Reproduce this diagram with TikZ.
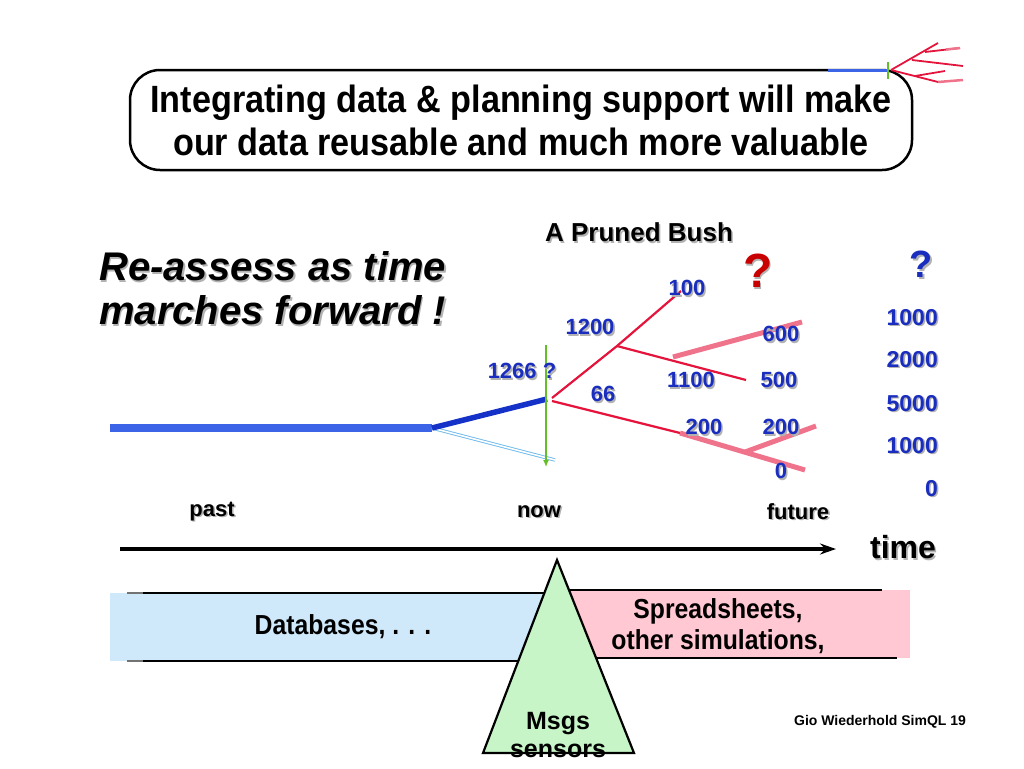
\documentclass[tikz,border=0pt]{standalone}
\usepackage{fontspec}
\setmainfont{Liberation Sans}
\newfontfamily\narrowfont{Liberation Sans}[FakeStretch=0.9]
\usetikzlibrary{arrows.meta}
\definecolor{pastblue}{RGB}{60,100,230}
\definecolor{nowblue}{RGB}{20,50,200}
\definecolor{altcyan}{RGB}{110,185,235}
\definecolor{nowgreen}{RGB}{100,190,40}
\definecolor{bushred}{RGB}{228,20,60}
\definecolor{bushpink}{RGB}{240,115,140}
\definecolor{lblue}{RGB}{25,45,190}
\definecolor{qred}{RGB}{200,0,0}
\definecolor{dbfill}{RGB}{207,233,250}
\definecolor{ssfill}{RGB}{255,200,210}
\definecolor{msfill}{RGB}{200,245,200}
\newcommand\shd[1]{\leavevmode\rlap{\kern1.6pt\raisebox{-1.6pt}{\color{black!30}#1}}#1}
\tikzset{
  lbl/.style={font=\bfseries\fontsize{22}{26}\selectfont, text=lblue, inner sep=0pt},
  rcol/.style={font=\bfseries\fontsize{23}{26}\selectfont, text=lblue, inner sep=0pt, anchor=east},
  axislbl/.style={font=\bfseries\fontsize{22}{26}\selectfont, inner sep=0pt},
  band/.style={font=\narrowfont\bfseries\fontsize{27.5}{31}\selectfont, inner sep=0pt, align=center},
  redbranch/.style={draw=bushred, line width=2.2pt},
  pinkbranch/.style={draw=bushpink, line width=5pt},
  bandline/.style={draw=black, line width=2.2pt}
}
\begin{document}
\begin{tikzpicture}[x=1pt,y=-1pt]
\useasboundingbox (0,0) rectangle (1024,768);

% title box
\node[draw, line width=2.5pt, rounded corners=30pt, minimum width=782pt, minimum height=100pt,
      align=center, inner sep=0pt, font=\narrowfont\bfseries\fontsize{38}{43}\selectfont] (title) at (521,120)
  {Integrating data \& planning support will make\\our data reusable and much more valuable};

% small bush icon
\coordinate (ib0) at (828,70);
\coordinate (ib1) at (887,70);
\coordinate (ibt) at (888,62);
\coordinate (ibb) at (888,79);
\coordinate (ir) at (891,70);
\coordinate (iu) at (938,43);
\coordinate (iua) at (925,52);
\coordinate (iub) at (960,48);
\coordinate (iuc) at (946,49.5);
\coordinate (imid) at (912,60);
\coordinate (im) at (963,66);
\coordinate (il) at (938,82);
\coordinate (ila) at (915,76);
\coordinate (ilb) at (945,71);
\coordinate (ilc) at (963,80);
\draw[pastblue, line width=3pt] (ib0) -- (ib1);
\draw[nowgreen, line width=2.5pt] (ibt) -- (ibb);
\draw[bushred, line width=1.8pt] (ir) -- (iu);
\draw[bushred, line width=1.8pt] (iua) -- (iub);
\draw[bushred, line width=1.8pt] (imid) -- (im);
\draw[bushred, line width=1.8pt] (ir) -- (il);
\draw[bushred, line width=1.8pt] (ila) -- (ilb);
\draw[bushpink, line width=2.5pt] (il) -- (ilc);
\draw[bushpink, line width=2.5pt] (iuc) -- (iub);

% left slogan
\node[anchor=west, align=left, inner sep=0pt, font=\bfseries\itshape\fontsize{40}{44}\selectfont] (slogan) at (99,289)
  {\shd{Re-assess as time}\\\shd{marches forward !}};

\node[font=\bfseries\fontsize{26}{28}\selectfont, inner sep=0pt] (bushtitle) at (639,233) {\shd{A Pruned Bush}};
\node[font=\bfseries\fontsize{48}{50}\selectfont, text=qred, inner sep=0pt] (qr) at (758,272) {\shd{?}};
\node[font=\bfseries\fontsize{38}{40}\selectfont, text=lblue, inner sep=0pt] (qb) at (921,265) {\shd{?}};

% right column
\node[rcol] (r1) at (938,318) {\shd{1000}};
\node[rcol] (r2) at (938,360) {\shd{2000}};
\node[rcol] (r3) at (938,404) {\shd{5000}};
\node[rcol] (r4) at (938,446) {\shd{1000}};
\node[rcol] (r5) at (938,489) {\shd{0}};

% tree
\coordinate (p0) at (110,428);
\coordinate (p1) at (432,428);
\coordinate (n1) at (547,399);
\coordinate (alt) at (555,460);
\coordinate (gtop) at (546,345);
\coordinate (gbot) at (546,467);
\coordinate (ra) at (552,398);
\coordinate (rb) at (552,401);
\coordinate (fork) at (617,346);
\coordinate (t100) at (681,291);
\coordinate (t500) at (746,380);
\coordinate (lowmid) at (680,433);
\coordinate (t0) at (805,470);
\coordinate (pk1a) at (673,357);
\coordinate (pk1b) at (802,322);
\coordinate (pk2a) at (745,452);
\coordinate (pk2b) at (816,426);

\draw[pastblue, line width=8pt] (p0) -- (p1);
\draw[double=white, draw=altcyan, line width=0.9pt, double distance=1.6pt] (p1) -- (alt);
\draw[nowblue, line width=5.5pt] (p1) -- (n1);
\draw[nowgreen, line width=1.3pt, -{Latex[length=7pt,width=6pt]}] (gtop) -- (gbot);
\draw[redbranch] (ra) -- (fork) -- (t100);
\draw[redbranch] (fork) -- (t500);
\draw[redbranch] (rb) -- (lowmid);
\draw[pinkbranch] (pk1a) -- (pk1b);
\draw[pinkbranch] (lowmid) -- (t0);
\draw[pinkbranch] (pk2a) -- (pk2b);

\node[lbl] (l100) at (687,289) {\shd{100}};
\node[lbl] (l1200) at (590,328) {\shd{1200}};
\node[lbl] (l1266) at (522,372) {\shd{1266 ?}};
\node[lbl] (l66) at (603,395) {\shd{66}};
\node[lbl] (l1100) at (691,381) {\shd{1100}};
\node[lbl] (l500) at (779,381) {\shd{500}};
\node[lbl] (l600) at (781,335) {\shd{600}};
\node[lbl] (l200a) at (704,428) {\shd{200}};
\node[lbl] (l200b) at (781,428) {\shd{200}};
\node[lbl] (l0) at (781,472) {\shd{0}};

% axis
\node[axislbl] (past) at (212,512) {\shd{past}};
\node[axislbl] (now) at (539,512) {\shd{now}};
\node[axislbl] (future) at (798,512) {\shd{future}};
\node[font=\bfseries\fontsize{32}{36}\selectfont, inner sep=0pt] (time) at (903,548) {\shd{time}};
\coordinate (ax0) at (120,549);
\coordinate (ax1) at (836,549);
\draw[line width=3.2pt, -{Stealth[length=16pt,width=11pt]}] (ax0) -- (ax1);

% bands
\fill[dbfill] (110,593) rectangle (556,661);
\fill[ssfill] (556,590) rectangle (910,658);
\coordinate (dbtl) at (143,593);
\coordinate (dbtr) at (560,593);
\coordinate (dbbl) at (143,661);
\coordinate (dbbr) at (560,661);
\coordinate (sstl) at (545,590);
\coordinate (sstr) at (882,590);
\coordinate (ssbl) at (545,658);
\coordinate (ssbr) at (897,658);
\draw[bandline] (dbtl) -- (dbtr);
\draw[bandline] (dbbl) -- (dbbr);
\draw[black!55, line width=2.2pt] (127,593) -- (dbtl);
\draw[black!55, line width=2.2pt] (127,661) -- (dbbl);
\draw[bandline] (sstl) -- (sstr);
\draw[bandline] (ssbl) -- (ssbr);

\node[band] (db) at (343,627) {Databases, . . .};
\node[band] (ss) at (718,626) {Spreadsheets,\\other simulations,};

% triangle
\coordinate (apex) at (557,560);
\coordinate (bl) at (483,753);
\coordinate (br) at (634,753);
\draw[fill=msfill, line width=2.2pt, line join=miter] (apex) -- (bl) -- (br) -- cycle;
\node[font=\bfseries\fontsize{25}{28}\selectfont, inner sep=0pt] (msgs) at (558,724) {Msgs};
\node[font=\bfseries\fontsize{25}{28}\selectfont, inner sep=0pt] (sensors) at (558,751) {sensors};
\draw[line width=2.2pt] (bl) -- (br);

\node[font=\bfseries\fontsize{14}{16}\selectfont, inner sep=0pt] (foot) at (880,722) {Gio Wiederhold SimQL 19};
\end{tikzpicture}
\end{document}
